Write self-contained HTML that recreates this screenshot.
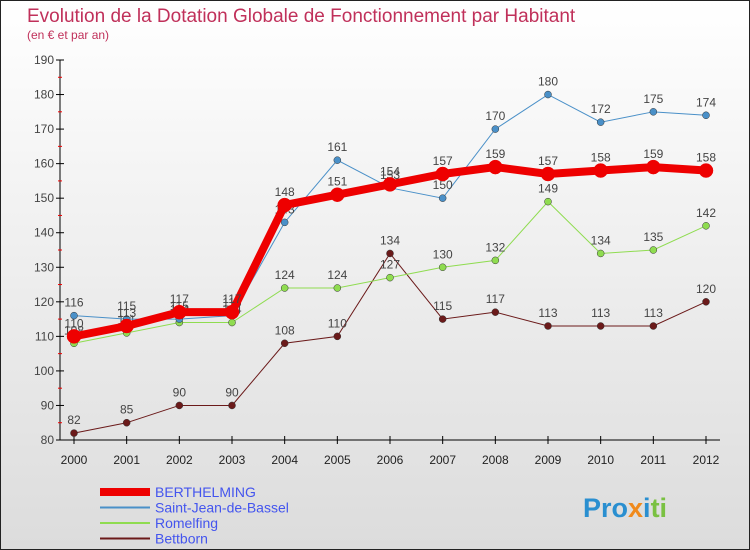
<!DOCTYPE html>
<html><head><meta charset="utf-8"><style>
body{margin:0;}
#wrap{width:750px;height:550px;position:relative;overflow:hidden;}
svg text{font-family:"Liberation Sans",sans-serif;}
</style></head><body>
<div id="wrap">
<svg id="chart" width="750" height="550" xmlns="http://www.w3.org/2000/svg">
<defs><linearGradient id="bg" x1="0" y1="0" x2="0" y2="1"><stop offset="0" stop-color="#ffffff"/><stop offset="1" stop-color="#dcdcdc"/></linearGradient></defs>
<rect x="0.5" y="0.5" width="749" height="549" fill="url(#bg)" stroke="#222"/>
<text x="27" y="22" font-size="19" fill="#c0305a">Evolution de la Dotation Globale de Fonctionnement par Habitant</text>
<text x="27" y="39" font-size="12" fill="#c0305a">(en € et par an)</text>
<g id="axes"></g><g id="series"></g><g id="legend"></g>
<text x="583" y="517" font-size="27" font-weight="bold" fill="#2a8fd0">Pro<tspan fill="#f08a1c">x</tspan>i<tspan fill="#7ac142">ti</tspan></text>
</svg></div>
<script>
const years=["2000","2001","2002","2003","2004","2005","2006","2007","2008","2009","2010","2011","2012"];
const yTicks=[80,90,100,110,120,130,140,150,160,170,180,190];
const berthelming=[110,113,117,117,148,151,154,157,159,157,158,159,158];
const saintJean=[116,115,115,116,143,161,153,150,170,180,172,175,174];
const romelfing=[108,111,114,114,124,124,127,130,132,149,134,135,142];
const bettborn=[82,85,90,90,108,110,134,115,117,113,113,113,120];
const NS="http://www.w3.org/2000/svg";
const x=i=>74+i*(706-74)/(years.length-1);
const y=v=>440-(v-80)*(380/110);
function mk(t,a,p){const e=document.createElementNS(NS,t);for(const k in a)e.setAttribute(k,a[k]);p.appendChild(e);return e;}
const ax=document.getElementById('axes');
let l=mk('line',{x1:60,y1:60,x2:60,y2:440,stroke:'#000'},ax);

l=mk('line',{x1:60,y1:440,x2:720,y2:440,stroke:'#000'},ax);

yTicks.forEach(v=>{mk('line',{x1:56,y1:y(v),x2:64,y2:y(v),stroke:'#000'},ax);
 if(v<190)mk('line',{x1:58,y1:y(v+5),x2:62,y2:y(v+5),stroke:'#e00'},ax);
 const t=mk('text',{x:54,y:y(v)+4,'font-size':12,fill:'#444','text-anchor':'end'},ax);t.textContent=v;
 });
years.forEach((yr,i)=>{mk('line',{x1:x(i),y1:436,x2:x(i),y2:444,stroke:'#000'},ax);
 const t=mk('text',{x:x(i),y:464,'font-size':12,fill:'#222','text-anchor':'middle'},ax);t.textContent=yr;
 });
const S=[
 {n:'Bettborn',d:bettborn,c:'#6b1a1a',w:1,r:3.5},
 {n:'Romelfing',d:romelfing,c:'#8fdc50',w:1,r:3.5},
 {n:'Saint-Jean-de-Bassel',d:saintJean,c:'#4a90c8',w:1,r:3.5},
 {n:'BERTHELMING',d:berthelming,c:'#ee0000',w:8,r:7}];
const sg=document.getElementById('series');
S.forEach(s=>{const g=mk('g',{},sg);
 
 const p=mk('polyline',{points:s.d.map((v,i)=>x(i)+','+y(v)).join(' '),fill:'none',stroke:s.c,'stroke-width':s.w},g);
 
 s.d.forEach((v,i)=>{const c=mk('circle',{cx:x(i),cy:y(v),r:s.r,fill:s.c,stroke:s.w>1?s.c:'#333','stroke-width':0.5},g);
  
  const t=mk('text',{x:x(i),y:y(v)-9,'font-size':12,fill:'#444','text-anchor':'middle'},g);t.textContent=v;
  });});
const lg=document.getElementById('legend');
[S[3],S[2],S[1],S[0]].forEach((s,i)=>{const yy=492+i*15.5;
 const g=mk('g',{},lg);
 mk('line',{x1:100,y1:yy,x2:150,y2:yy,stroke:s.c,'stroke-width':s.w>1?8:2},g);
 const t=mk('text',{x:155,y:yy+5,'font-size':14,fill:'#4455ee'},g);t.textContent=s.n;
 });
</script>
</body></html>
